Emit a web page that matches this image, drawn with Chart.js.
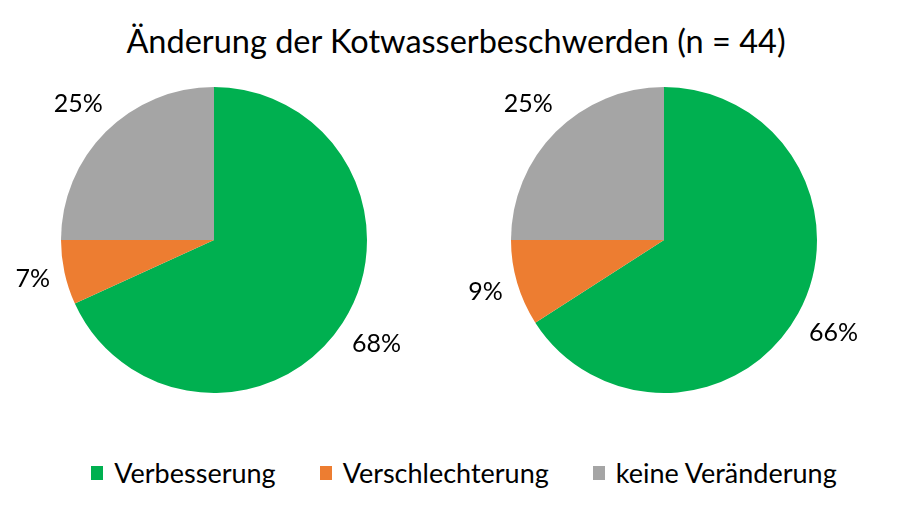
<!DOCTYPE html>
<html lang="de">
<head>
<meta charset="utf-8">
<script src="https://cdn.jsdelivr.net/npm/chart.js@4.4.1/dist/chart.umd.min.js"></script>
<style>
  body { margin: 0; background: #fff; font-family: Lato, "Open Sans", sans-serif; color: #000; }
  #wrap { position: relative; width: 912px; height: 510px; overflow: hidden; }
  #title { position: absolute; left: 0; top: 20px; width: 912px; text-align: center; font-size: 32.5px; line-height: 42px; }
  .pie { position: absolute; top: 60px; width: 428px; height: 360px; }
  #pieLeft { left: 0; }
  #pieRight { left: 450px; }
  #legend { position: absolute; left: 8px; top: 457px; width: 912px; display: flex; justify-content: center; font-size: 27px; line-height: 32px; }
  .item { display: flex; align-items: center; margin: 0 22px; }
  .box { width: 12px; height: 14px; margin-right: 11px; }
</style>
</head>
<body>
<div id="wrap">
  <div id="title">Änderung der Kotwasserbeschwerden (n = 44)</div>
  <div class="pie" id="pieLeft"><canvas id="chartLeft"></canvas></div>
  <div class="pie" id="pieRight"><canvas id="chartRight"></canvas></div>
  <div id="legend"></div>
</div>
<script>
// Kategorien und Werte (Anzahl Pferde, n = 44)
const categories = ['Verbesserung', 'Verschlechterung', 'keine Veränderung'];
const pieLeftCounts = [30, 3, 11];   // 68 %, 7 %, 25 %
const pieRightCounts = [29, 4, 11];  // 66 %, 9 %, 25 %
const colors = ['#00B050', '#ED7D31', '#A5A5A5'];

// Prozent-Beschriftungen außerhalb der Tortenstücke
const outsideLabels = {
  id: 'outsideLabels',
  afterDatasetsDraw(chart) {
    const ctx = chart.ctx;
    const meta = chart.getDatasetMeta(0);
    const values = chart.data.datasets[0].data;
    const total = values.reduce((a, b) => a + b, 0);
    ctx.save();
    ctx.font = '25px Lato, "Open Sans", sans-serif';
    ctx.fillStyle = '#000';
    ctx.textAlign = 'center';
    ctx.textBaseline = 'middle';
    meta.data.forEach((arc, i) => {
      const p = arc.getProps(['x', 'y', 'startAngle', 'endAngle', 'outerRadius'], true);
      const a = (p.startAngle + p.endAngle) / 2;
      const text = Math.round(values[i] / total * 100) + '%';
      const w = ctx.measureText(text).width;
      const ext = Math.abs(Math.cos(a)) * w / 2 + Math.abs(Math.sin(a)) * 12;
      const d = p.outerRadius + 13 + ext;
      ctx.fillText(text, p.x + Math.cos(a) * d, p.y + Math.sin(a) * d);
    });
    ctx.restore();
  }
};

function makePie(canvasId, counts) {
  const ctx = document.getElementById(canvasId).getContext('2d');
  return new Chart(ctx, {
    type: 'pie',
    data: {
      labels: categories,
      datasets: [{
        data: counts,
        backgroundColor: colors,
        borderWidth: 0
      }]
    },
    options: {
      responsive: true,
      maintainAspectRatio: false,
      animation: false,
      layout: { padding: { left: 61, right: 61, top: 27, bottom: 27 } },
      plugins: {
        legend: { display: false },
        tooltip: { enabled: false }
      }
    },
    plugins: [outsideLabels]
  });
}

makePie('chartLeft', pieLeftCounts);
makePie('chartRight', pieRightCounts);

// gemeinsame Legende unten
const legend = document.getElementById('legend');
categories.forEach((name, i) => {
  const item = document.createElement('div');
  item.className = 'item';
  const box = document.createElement('span');
  box.className = 'box';
  box.style.background = colors[i];
  const label = document.createElement('span');
  label.textContent = name;
  item.appendChild(box);
  item.appendChild(label);
  legend.appendChild(item);
});
</script>
</body>
</html>
